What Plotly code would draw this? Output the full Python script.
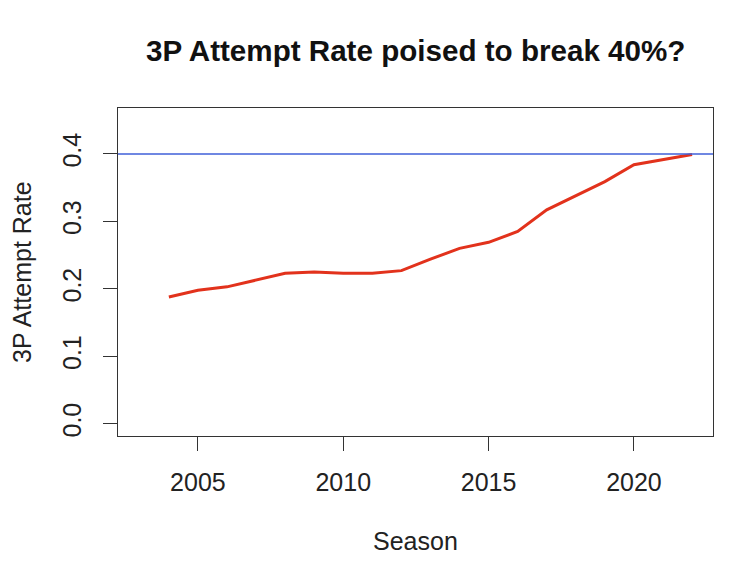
import plotly.graph_objects as go

seasons = list(range(2004, 2023))
attempt_rate = [0.188, 0.198, 0.203, 0.213, 0.223, 0.225, 0.223, 0.223, 0.227,
                0.244, 0.260, 0.269, 0.285, 0.317, 0.338, 0.359, 0.384, 0.392, 0.399]
threshold = 0.4
x_ticks = [2005, 2010, 2015, 2020]
y_ticks = [0.0, 0.1, 0.2, 0.3, 0.4]
y_tick_labels = ["0.0", "0.1", "0.2", "0.3", "0.4"]

FONT = "Liberation Sans, Arial, Helvetica, sans-serif"

fig = go.Figure()
fig.add_trace(go.Scatter(x=seasons, y=attempt_rate, mode="lines",
                         line=dict(color="#E2321C", width=3), showlegend=False))
fig.add_shape(type="line", xref="paper", x0=0, x1=1, yref="y", y0=threshold, y1=threshold,
              line=dict(color="#3F5FD8", width=1.5))

fig.update_layout(
    width=740, height=567,
    margin=dict(l=110, r=35, t=100, b=139),
    paper_bgcolor="white", plot_bgcolor="white",
    font=dict(family=FONT, size=25, color="#222222"),
    xaxis=dict(range=[2002.25, 2022.72], tickvals=x_ticks, ticks="outside", ticklen=14,
               tickwidth=1.3, tickcolor="#333333", showgrid=False, zeroline=False,
               showline=True, linecolor="#333333", linewidth=1.3, mirror=True,
               ticklabelstandoff=10,
               tickfont=dict(size=25, family=FONT, color="#222222")),
    yaxis=dict(range=[-0.018, 0.468], tickvals=y_ticks, ticktext=y_tick_labels,
               ticks="outside", ticklen=14, tickwidth=1.3, tickcolor="#333333",
               tickangle=-90, showgrid=False, zeroline=False,
               showline=True, linecolor="#333333", linewidth=1.3, mirror=True,
               ticklabelstandoff=12,
               tickfont=dict(size=25, family=FONT, color="#222222")),
    annotations=[
        dict(text="<b>3P Attempt Rate poised to break 40%?</b>", xref="paper", yref="paper",
             x=0.5, y=1, yshift=58, showarrow=False, font=dict(size=29.6, family=FONT, color="#111111"),
             xanchor="center", yanchor="middle"),
        dict(text="Season", xref="paper", yref="paper", x=0.5, y=0, yshift=-105,
             showarrow=False, font=dict(size=25, family=FONT, color="#222222"),
             xanchor="center", yanchor="middle"),
        dict(text="3P Attempt Rate", xref="paper", yref="paper", x=0, y=0.5, xshift=-96,
             textangle=-90, showarrow=False, font=dict(size=25, family=FONT, color="#222222"),
             xanchor="center", yanchor="middle"),
    ],
)

fig.write_html("out.html")
